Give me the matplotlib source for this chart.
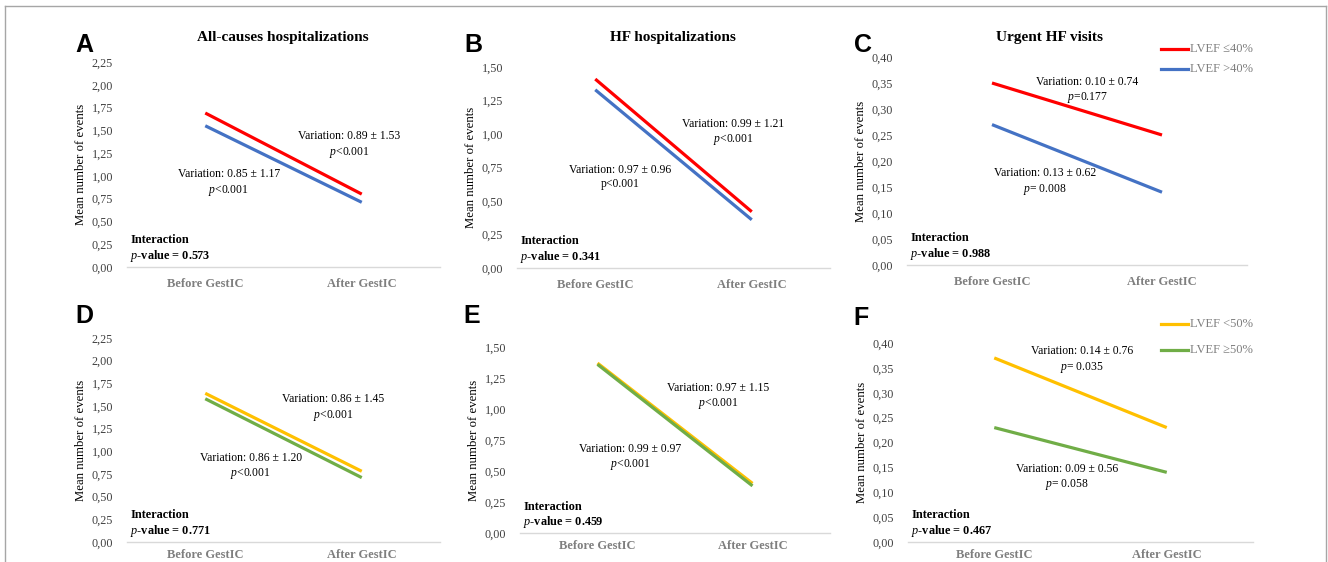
import matplotlib
matplotlib.use("Agg")
import matplotlib.pyplot as plt
from matplotlib.lines import Line2D

plt.rcParams["font.family"] = ["Liberation Serif", "DejaVu Serif"]
plt.rcParams["mathtext.fontset"] = "custom"
plt.rcParams["mathtext.rm"] = "Liberation Serif"
plt.rcParams["mathtext.it"] = "Liberation Serif:italic"
plt.rcParams["mathtext.bf"] = "Liberation Serif:bold"

W, H = 1328, 562

# ---- data ----
periods = ["Before GestIC", "After GestIC"]

a_low = [1.69, 0.80]   # LVEF <=40%
a_high = [1.55, 0.71]  # LVEF >40%
b_low = [1.41, 0.42]
b_high = [1.33, 0.36]
c_low = [0.35, 0.25]
c_high = [0.27, 0.14]

d_low = [1.64, 0.78]   # LVEF <50%
d_high = [1.58, 0.71]  # LVEF >=50%
e_low = [1.37, 0.40]
e_high = [1.36, 0.38]
f_low = [0.37, 0.23]
f_high = [0.23, 0.14]

titles = ["All-causes hospitalizations", "HF hospitalizations", "Urgent HF visits"]
letters = ["A", "B", "C", "D", "E", "F"]
interaction_p = ["0.573", "0.341", "0.988", "0.771", "0.459", "0.467"]
legend_top = ["LVEF \u226440%", "LVEF >40%"]
legend_bottom = ["LVEF <50%", "LVEF \u226550%"]

RED, BLUE = "#FF0000", "#4472C4"
YELLOW, GREEN = "#FFC000", "#70AD47"


def px_axes(left, top, right, bottom):
    return fig.add_axes([left / W, 1 - bottom / H, (right - left) / W, (bottom - top) / H])


def ptext(x, y, s, **kw):
    fig.text(x / W, 1 - y / H, s, **kw)


fig = plt.figure(figsize=(W / 100, H / 100), dpi=100)

# outer frame
for xs, ys in [([5, 1326], [6, 6]), ([5, 5], [6, H]), ([1326, 1326], [6, H])]:
    fig.add_artist(Line2D([x / W for x in xs], [1 - y / H for y in ys],
                          color="#A6A6A6", lw=1.0))

panels = [
    # box (l, t, r, b), ymax, step, series, colors, notes
    ((127, 62, 440, 267), 2.25, 0.25, (a_low, a_high), (RED, BLUE),
     [(0.92, 1.34, "Variation: 0.89 \u00b1 1.53\n$\\it{p}$<0.001"),
      (0.15, 0.92, "Variation: 0.85 \u00b1 1.17\n$\\it{p}$<0.001")]),
    ((517, 67, 830, 268), 1.50, 0.25, (b_low, b_high), (RED, BLUE),
     [(0.88, 1.01, "Variation: 0.99 \u00b1 1.21\n$\\it{p}$<0.001"),
      (0.16, 0.68, "Variation: 0.97 \u00b1 0.96\np<0.001")]),
    ((907, 57, 1247, 265), 0.40, 0.05, (c_low, c_high), (RED, BLUE),
     [(0.56, 0.336, "Variation: 0.10 \u00b1 0.74\n$\\it{p}$=0.177"),
      (0.31, 0.16, "Variation: 0.13 \u00b1 0.62\n$\\it{p}$= 0.008")]),
    ((127, 338, 440, 542), 2.25, 0.25, (d_low, d_high), (YELLOW, GREEN),
     [(0.82, 1.48, "Variation: 0.86 \u00b1 1.45\n$\\it{p}$<0.001"),
      (0.29, 0.83, "Variation: 0.86 \u00b1 1.20\n$\\it{p}$<0.001")]),
    ((520, 347, 830, 533), 1.50, 0.25, (e_low, e_high), (YELLOW, GREEN),
     [(0.78, 1.10, "Variation: 0.97 \u00b1 1.15\n$\\it{p}$<0.001"),
      (0.21, 0.61, "Variation: 0.99 \u00b1 0.97\n$\\it{p}$<0.001")]),
    ((908, 343, 1253, 542), 0.40, 0.05, (f_low, f_high), (YELLOW, GREEN),
     [(0.51, 0.366, "Variation: 0.14 \u00b1 0.76\n$\\it{p}$= 0.035"),
      (0.42, 0.13, "Variation: 0.09 \u00b1 0.56\n$\\it{p}$= 0.058")]),
]

axes = []
for i, (box, ymax, step, series, colors, notes) in enumerate(panels):
    ax = px_axes(*box)
    axes.append(ax)
    x = list(range(len(periods)))
    for vals, col in zip(series, colors):
        ax.plot(x, vals, color=col, lw=2.3, solid_capstyle="butt")
    ax.set_xlim(-0.5, 1.5)
    ax.set_ylim(0, ymax)
    n = int(round(ymax / step))
    ticks = [k * step for k in range(n + 1)]
    ax.set_yticks(ticks)
    ax.set_yticklabels([f"{t:.2f}".replace(".", ",") for t in ticks],
                       fontsize=8.7, color="#404040")
    ax.set_xticks(x)
    ax.set_xticklabels(periods, fontsize=9, fontweight="bold", color="#7F7F7F")
    ax.tick_params(axis="both", length=0)
    ax.tick_params(axis="x", pad=8 if i < 3 else 5)
    ax.tick_params(axis="y", pad=10)
    for s in ["top", "right", "left"]:
        ax.spines[s].set_visible(False)
    ax.spines["bottom"].set_color("#D9D9D9")
    ax.spines["bottom"].set_linewidth(1.0)
    ax.set_ylabel("Mean number of events", fontsize=9.2, labelpad=3)
    ax.patch.set_alpha(0)
    for nx, ny, s in notes:
        ax.text(nx, ny, s, ha="center", va="center", fontsize=8.4, linespacing=1.25)
    ax.text(0.01, 0.015, "Interaction\n$\\bf{\\it{p}}$-value = " + interaction_p[i],
            transform=ax.transAxes, ha="left", va="bottom",
            fontsize=8.8, fontweight="bold", linespacing=1.15)

# titles
for tx, s in zip([283, 673, 1049], titles):
    ptext(tx, 37, s, ha="center", va="center", fontsize=11, fontweight="bold")

# panel letters
for (lx, ly), s in zip([(75, 45), (464, 45), (854, 45), (75, 316), (463, 316), (853, 318)],
                       letters):
    ptext(lx, ly, s, ha="left", va="center", fontsize=18, fontweight="bold",
          family=["Liberation Sans", "DejaVu Sans"])

# legends
for labels, colors, ys in [(legend_top, (RED, BLUE), (49, 69)),
                           (legend_bottom, (YELLOW, GREEN), (324, 350))]:
    for lab, col, yy in zip(labels, colors, ys):
        fig.add_artist(Line2D([1161 / W, 1188 / W], [1 - yy / H, 1 - yy / H],
                              color=col, lw=2.3))
        ptext(1190, yy, lab, ha="left", va="center", fontsize=9, color="#7F7F7F")

fig.savefig("out.png", dpi=100)
